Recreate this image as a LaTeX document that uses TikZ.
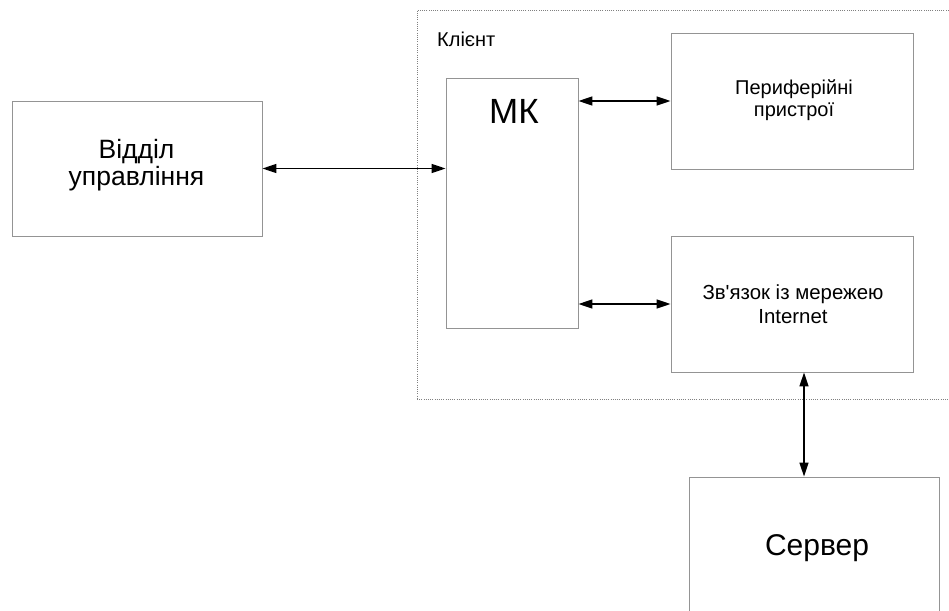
\documentclass[tikz,border=0pt]{standalone}
\usepackage{fontspec}
\setmainfont{Liberation Sans}
\usetikzlibrary{arrows.meta}
\begin{document}
\begin{tikzpicture}[x=1pt,y=-1pt,
  box/.style={draw=black!42, line width=0.9pt, rectangle, inner sep=0pt},
  arr/.style={{Triangle[length=14pt,width=9pt]}-{Triangle[length=14pt,width=9pt]}, line width=1.5pt, black},
  grp/.style={draw=black!50, line width=0.6pt, dash pattern=on 1pt off 1.2pt, rectangle, inner sep=0pt},
  lbl/.style={inner sep=0pt, anchor=base}]
\useasboundingbox (0,0) rectangle (949,610);
\clip (0,0) rectangle (949,610);
\node[grp, minimum width=540pt, minimum height=389pt] (client) at (687,204.5) {};
\node[lbl, anchor=base west, font=\fontsize{20}{22}\selectfont] (kl) at (437,46) {Клієнт};
\node[box, minimum width=250pt, minimum height=135pt] (otd) at (137,168.5) {};
\node[lbl, font=\fontsize{26.5}{28}\selectfont] (otd1) at (136.5,158.5) {Відділ};
\node[lbl, font=\fontsize{26.5}{28}\selectfont] (otd2) at (136.5,185.5) {управління};
\node[box, minimum width=132pt, minimum height=250pt] (mk) at (512,203) {};
\node[lbl, font=\fontsize{35}{37}\selectfont] (mkt) at (514,123) {МК};
\node[box, minimum width=242pt, minimum height=136pt] (per) at (792,101) {};
\node[lbl, font=\fontsize{20}{22}\selectfont] (per1) at (794,94) {Периферійні};
\node[lbl, font=\fontsize{20}{22}\selectfont] (per2) at (794,116.5) {пристрої};
\node[box, minimum width=242pt, minimum height=136pt] (net) at (792,304) {};
\node[lbl, font=\fontsize{20.4}{22}\selectfont] (net1) at (793,299) {Зв\textquotesingle язок із мережею};
\node[lbl, font=\fontsize{20.4}{22}\selectfont] (net2) at (793,323) {Internet};
\node[box, minimum width=250pt, minimum height=135pt] (srv) at (814,544.5) {};
\node[lbl, font=\fontsize{30}{32}\selectfont] (srvt) at (817,555) {Сервер};
\draw[arr] (otd.east) -- (otd.east -| mk.west);
\draw[arr] (per.west -| mk.east) -- (per.west);
\draw[arr] (net.west -| mk.east) -- (net.west);
\draw[arr] ([xshift=12pt]net.south) -- ([xshift=12pt]net.south |- srv.north);
\end{tikzpicture}
\end{document}
